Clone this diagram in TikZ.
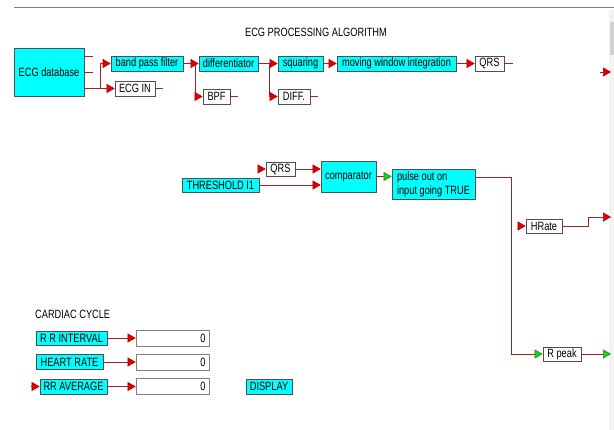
\documentclass[tikz,border=0pt]{standalone}
\usepackage{fontspec}
\setmainfont{Liberation Sans}[FakeStretch=0.77]
\usetikzlibrary{arrows.meta}
\definecolor{boxcyan}{HTML}{00FFFF}
\definecolor{wirec}{HTML}{A52020}
\definecolor{tipred}{HTML}{E00000}
\definecolor{tipgreen}{HTML}{22CC22}
\definecolor{edgec}{HTML}{505050}
\begin{document}
\begin{tikzpicture}[x=1pt,y=-1pt,
  font=\fontsize{12}{14}\selectfont,
  blk/.style={draw=edgec, line width=0.7pt, inner sep=0pt, fill=boxcyan, minimum height=15pt},
  wbox/.style={blk, fill=white},
  fbox/.style={draw=gray, line width=0.7pt, fill=white, minimum height=16pt, inner xsep=3.5pt, inner ysep=0pt, text width=66pt, align=right},
  wire/.style={draw=wirec, line width=0.6pt},
  ra/.style={wire, -{Triangle[length=8pt,width=9pt,fill=tipred,color=tipred!80!black]}},
  ga/.style={wire, -{Triangle[length=8pt,width=9pt,fill=tipgreen,color=tipgreen!70!black]}},
  lbl/.style={inner sep=0pt}
]
\useasboundingbox (0,0) rectangle (614,430);
\fill[white] (0,0) rectangle (614,430);
\draw[gray, line width=0.8pt] (14,7) -- (614,7);
\fill[gray!10] (609,10) rectangle (614,430);
\fill[gray!35] (610,22) rectangle (614,55);

% top row
\node[lbl] (title) at (316,32) {ECG PROCESSING ALGORITHM};
\node[blk, minimum width=70pt, minimum height=48pt] (db) at (49,72) {ECG database};
\node[blk, minimum width=72pt] (bpf) at (147,63.5) {band pass filter};
\node[wbox, minimum width=40pt] (ecgin) at (135,88.5) {ECG IN};
\node[blk, minimum width=59pt] (dif) at (228.5,63.5) {differentiator};
\node[wbox, minimum width=27pt] (bpfo) at (216.5,96.5) {BPF};
\node[blk, minimum width=45pt] (sq) at (300.5,63.5) {squaring};
\node[wbox, minimum width=32pt] (difo) at (294,96.5) {DIFF.};
\node[blk, minimum width=119pt] (mwi) at (396.5,63.5) {moving window integration};
\node[wbox, minimum width=29pt] (qrs1) at (489.5,63.5) {QRS};

\coordinate (s1) at (93,56);
\coordinate (s2) at (93,72);
\draw[wire] (db.east |- s1) -- (s1);
\draw[wire] (db.east |- s2) -- (s2);
\coordinate (j1) at (100,88.5);
\draw[ra] (db.east |- j1) -- (j1) |- (bpf.west);
\draw[ra] (j1) -- (ecgin.west);
\coordinate (e1) at (163,88.5);
\draw[wire] (ecgin.east) -- (e1);
\draw[ra] (bpf.east) -- (dif.west);
\coordinate (j2) at (195,63.5);
\draw[ra] (j2) |- (bpfo.west);
\coordinate (e2) at (238,96.5);
\draw[wire] (bpfo.east) -- (e2);
\draw[ra] (dif.east) -- (sq.west);
\coordinate (j3) at (269,63.5);
\draw[ra] (j3) |- (difo.west);
\coordinate (e3) at (318,96.5);
\draw[wire] (difo.east) -- (e3);
\draw[ra] (sq.east) -- (mwi.west);
\draw[ra] (mwi.east) -- (qrs1.west);
\coordinate (e4) at (513,63.5);
\draw[wire] (qrs1.east) -- (e4);
\coordinate (r1s) at (600,72);
\coordinate (r1e) at (611,72);
\draw[ra] (r1s) -- (r1e);

% middle
\node[wbox, minimum width=29pt, minimum height=14pt] (qrs2) at (280.5,169) {QRS};
\node[blk, minimum width=77pt, minimum height=14pt] (thr) at (220.5,185) {THRESHOLD I1};
\node[blk, minimum width=55pt, minimum height=31pt] (cmp) at (348.5,176.5) {comparator};
\node[blk, minimum width=83pt, minimum height=30pt, align=left] (pulse) at (433.5,184) {pulse out on\\input going TRUE};
\coordinate (q2s) at (258,169);
\draw[ra] (q2s) -- (qrs2.west);
\draw[ra] (qrs2.east) -- (qrs2.east -| cmp.west);
\draw[ra] (thr.east) -- (thr.east -| cmp.west);
\draw[ga] (cmp.east) -- (cmp.east -| pulse.west);

\node[wbox, minimum width=36pt, minimum height=14pt] (hr) at (544,226) {HRate};
\node[wbox, minimum width=38pt, minimum height=14pt] (rpk) at (562,354) {R peak};
\coordinate (k1) at (511,177);
\draw[ga] (pulse.east |- k1) -- (k1) |- (rpk.west);
\coordinate (h0) at (518,226);
\draw[ra] (h0) -- (hr.west);
\coordinate (h1) at (588,217);
\coordinate (h2) at (611,217);
\draw[ra] (hr.east) -| (h1) -- (h2);
\coordinate (g2) at (611,354);
\draw[ga] (rpk.east) -- (g2);

% bottom
\node[lbl, anchor=west] (cc) at (35,314) {CARDIAC CYCLE};
\node[blk, minimum width=71pt, minimum height=14pt] (rri) at (71.5,338) {R R INTERVAL};
\node[blk, minimum width=67pt, minimum height=15pt] (hrt) at (69.5,362) {HEART RATE};
\node[blk, minimum width=67pt, minimum height=15pt] (rra) at (73.5,386.5) {RR AVERAGE};
\node[blk, minimum width=46pt, minimum height=15pt] (disp) at (269,386.5) {DISPLAY};
\node[fbox] (f1) at (172.5,338) {0};
\node[fbox] (f2) at (172.5,362) {0};
\node[fbox] (f3) at (172.5,386.5) {0};
\draw[ra] (rri.east) -- (f1.west);
\draw[ra] (hrt.east) -- (f2.west);
\draw[ra] (rra.east) -- (f3.west);
\coordinate (a0) at (31,386.5);
\draw[ra] (a0) -- (rra.west);
\end{tikzpicture}
\end{document}
